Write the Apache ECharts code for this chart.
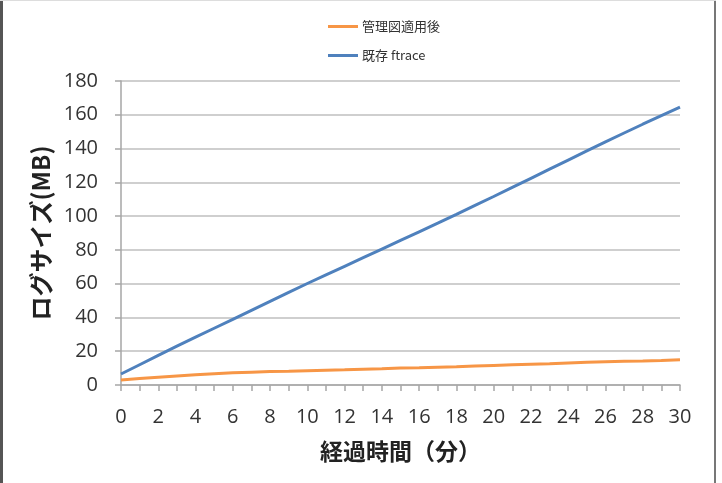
<!DOCTYPE html>
<html>
<head>
<meta charset="utf-8">
<script src="https://cdn.jsdelivr.net/npm/echarts@6/dist/echarts.min.js"></script>
<style>
html,body{margin:0;padding:0;background:#fff;}
#chart{width:722px;height:483px;}
</style>
</head>
<body>
<div id="chart"></div>
<script>
const categories = ['0','1','2','3','4','5','6','7','8','9','10','11','12','13','14','15','16','17','18','19','20','21','22','23','24','25','26','27','28','29','30'];
const seriesNames = ['管理図適用後', '既存 ftrace'];
const managedValues = [3,3.8,4.6,5.3,6,6.6,7.2,7.6,8,8.2,8.5,8.8,9,9.3,9.6,10,10.2,10.5,10.8,11.2,11.6,12,12.3,12.6,13,13.4,13.7,14,14.2,14.5,15];
const ftraceValues = [6.5,12,17.5,23,28.3,33.6,38.9,44.2,49.5,54.8,60.1,65.2,70.3,75.4,80.5,85.6,90.7,95.8,101,106.3,111.6,117,122.4,127.8,133.2,138.6,144,149.2,154.4,159.5,164.5];
const xAxisTitle = '経過時間（分）';
const yAxisTitle = 'ログサイズ(MB)';

const chart = echarts.init(document.getElementById('chart'), null, {renderer:'canvas'});
const numFont = '"Open Sans", "Noto Sans CJK JP", sans-serif';
const jpFont = '"Noto Sans CJK JP", sans-serif';
chart.setOption({
  animation: false,
  backgroundColor: '#fff',
  graphic: [
    {type:'rect', shape:{x:0,y:0,width:3,height:483}, style:{fill:'#555'}},
    {type:'rect', shape:{x:714,y:0,width:2,height:483}, style:{fill:'#777'}},
    {type:'rect', shape:{x:0,y:0,width:716,height:1}, style:{fill:'#ddd'}}
  ],
  legend: {
    orient: 'vertical',
    left: 323,
    top: 15,
    itemWidth: 30,
    itemHeight: 3,
    itemGap: 16,
    icon: 'rect',
    textStyle: {fontFamily: jpFont, fontSize: 13, color: '#333', padding: [0,0,0,-1]},
    data: seriesNames
  },
  grid: {left: 121, right: 42, top: 81, bottom: 98, containLabel: false},
  xAxis: {
    type: 'category',
    data: categories,
    boundaryGap: false,
    name: xAxisTitle,
    nameLocation: 'middle',
    nameGap: 55,
    nameTextStyle: {fontFamily: jpFont, fontSize: 23, fontWeight: 'bold', color: '#222'},
    axisLine: {lineStyle: {color: '#a6a6a6', width: 1.5}},
    axisTick: {show: true, interval: 0, length: 6, lineStyle: {color: '#a6a6a6', width: 1.5}},
    axisLabel: {interval: 1, margin: 22, fontFamily: numFont, fontSize: 20, color: '#333'}
  },
  yAxis: {
    type: 'value',
    min: 0, max: 180, interval: 20,
    name: yAxisTitle,
    nameLocation: 'middle',
    nameGap: 65,
    nameRotate: 90,
    nameTextStyle: {fontFamily: jpFont, fontSize: 24, fontWeight: 'bold', color: '#222'},
    axisLine: {show: true, lineStyle: {color: '#a6a6a6', width: 1.5}},
    axisTick: {show: true, length: 6, lineStyle: {color: '#a6a6a6', width: 1.5}},
    axisLabel: {margin: 23, fontFamily: numFont, fontSize: 20, color: '#333'},
    splitLine: {lineStyle: {color: '#bfbfbf', width: 1.5}}
  },
  series: [
    {name: seriesNames[0], type: 'line', data: managedValues, symbol: 'none', color: '#F79646', lineStyle: {width: 3, color: '#F79646'}},
    {name: seriesNames[1], type: 'line', data: ftraceValues, symbol: 'none', color: '#4F81BD', lineStyle: {width: 3, color: '#4F81BD'}}
  ]
});
</script>
</body>
</html>
